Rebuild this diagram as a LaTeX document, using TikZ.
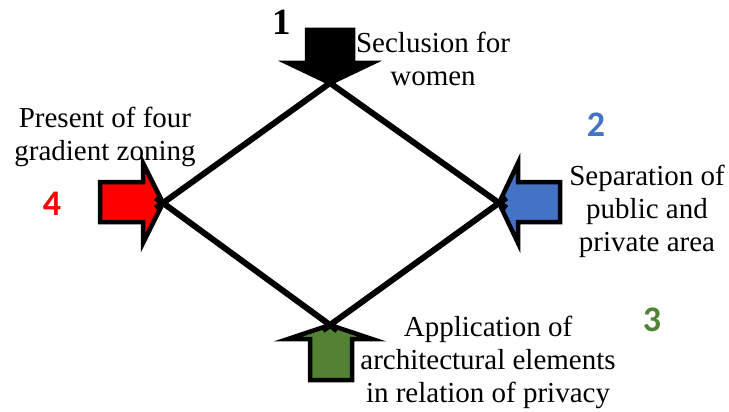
\documentclass[tikz,border=0pt]{standalone}
\usepackage{fontspec}
\setmainfont{Liberation Serif}
\newfontfamily\numfont{Carlito}
\definecolor{arred}{HTML}{FF0000}
\definecolor{arblue}{HTML}{4472C4}
\definecolor{argreen}{HTML}{548235}
\begin{document}
\begin{tikzpicture}[x=1pt,y=-1pt,
  lbl/.style={inner sep=0pt,align=center,anchor=north,font=\fontsize{29}{33}\selectfont},
  numlbl/.style={inner sep=0pt,font=\numfont\bfseries\fontsize{36}{40}\selectfont},
  arrowshape/.style={draw=black,line width=4.5pt,line join=miter},
  side/.style={draw=black,line width=6pt,shorten <=-9pt,shorten >=-9pt}]
\useasboundingbox (0,0) rectangle (729,412);
% diamond vertices
\coordinate (T) at (330,83);
\coordinate (L) at (163,203);
\coordinate (R) at (499,203);
\coordinate (B) at (330,325);
% arrows
\draw[arrowshape,fill=black] (T) -- (288,63) -- (307,63) -- (307,30) -- (353,30) -- (353,63) -- (372,63) -- cycle;
\draw[arrowshape,fill=arred] (L) -- (143,163) -- (143,182) -- (100,182) -- (100,222) -- (143,222) -- (143,243) -- cycle;
\draw[arrowshape,fill=arblue] (R) -- (518,163) -- (518,182) -- (560,182) -- (560,222) -- (518,222) -- (518,243) -- cycle;
\draw[arrowshape,fill=argreen] (B) -- (288,339) -- (310,339) -- (310,380) -- (352,380) -- (352,339) -- (372,339) -- cycle;
% diamond sides
\draw[side] (T) -- (R);
\draw[side] (R) -- (B);
\draw[side] (B) -- (L);
\draw[side] (L) -- (T);
% labels
\node[lbl] (t1) at (433,32) {Seclusion for\\women};
\node[lbl] (t4) at (105,107) {Present of four\\gradient zoning};
\node[lbl] (t2) at (647,165) {Separation of\\public and\\private area};
\node[lbl] (t3) at (488,316) {Application of\\architectural elements\\in relation of privacy};
% numbers
\node[inner sep=0pt,font=\bfseries\fontsize{37}{40}\selectfont] (n1) at (282,22) {1};
\node[numlbl,text=arblue] (n2) at (596,125) {2};
\node[numlbl,text=argreen] (n3) at (652,320) {3};
\node[numlbl,text=arred] (n4) at (52,204) {4};
\end{tikzpicture}
\end{document}
